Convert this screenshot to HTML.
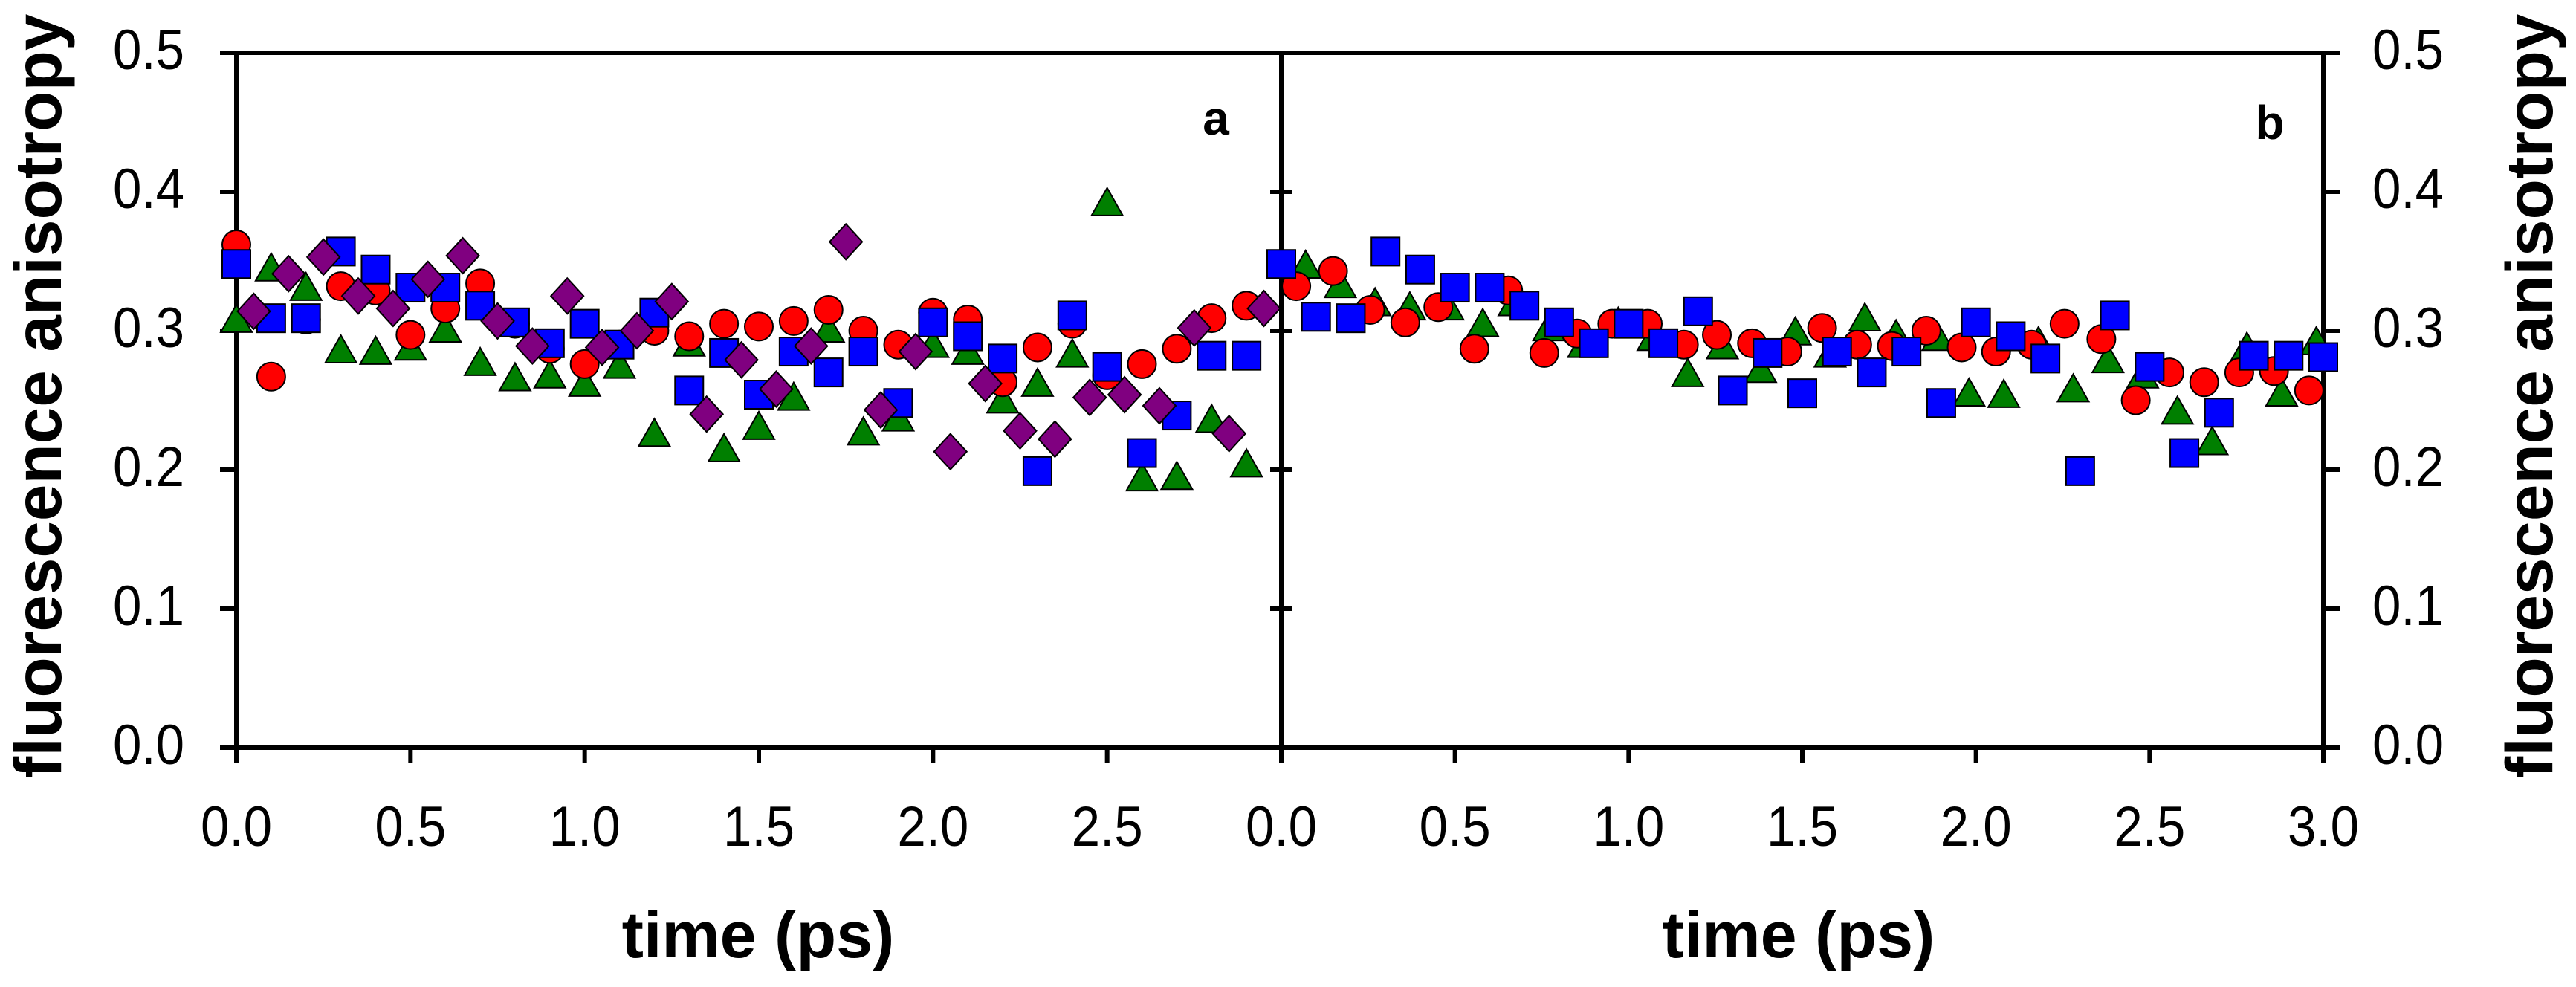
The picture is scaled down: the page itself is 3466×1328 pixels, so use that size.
<!DOCTYPE html>
<html><head><meta charset="utf-8"><style>html,body{margin:0;padding:0;background:#fff}svg{display:block}</style></head>
<body>
<svg id="chart" xmlns="http://www.w3.org/2000/svg" width="3466" height="1328" viewBox="0 0 3466 1328" font-family="'Liberation Sans', sans-serif">
<g id="frame"></g>
<g id="marks"></g>
<g id="labels"></g>
</svg>
<script>
const yTicks=[0,0.1,0.2,0.3,0.4,0.5];
const yTickLabels=["0.0","0.1","0.2","0.3","0.4","0.5"];
const xTicks=[0,0.5,1,1.5,2,2.5,3];
const xTickLabelsA=["0.0","0.5","1.0","1.5","2.0","2.5","0.0"];
const xTickLabelsB=["","0.5","1.0","1.5","2.0","2.5","3.0"];
// Panel a
const aGridX=[0,0.1,0.2,0.3,0.4,0.5,0.6,0.7,0.8,0.9,1.0,1.1,1.2,1.3,1.4,1.5,1.6,1.7,1.8,1.9,2.0,2.1,2.2,2.3,2.4,2.5,2.6,2.7,2.8,2.9];
const aRed=[0.362,0.267,0.308,0.332,0.329,0.297,0.316,0.334,0.305,0.287,0.276,0.29,0.300,0.296,0.305,0.303,0.307,0.315,0.300,0.29,0.313,0.308,0.263,0.288,0.305,0.268,0.276,0.287,0.309,0.318];
const aGreen=[0.307,0.344,0.33,0.285,0.284,0.287,0.30,0.276,0.265,0.267,0.261,0.274,0.225,0.29,0.214,0.230,0.251,0.30,0.226,0.236,0.289,0.284,0.249,0.261,0.282,0.391,0.193,0.194,0.235,0.203];
const aBlue=[0.348,0.309,0.309,0.357,0.344,0.331,0.331,0.318,0.306,0.291,0.305,0.29,0.313,0.257,0.284,0.254,0.285,0.270,0.285,0.248,0.306,0.296,0.280,0.199,0.311,0.274,0.212,0.239,0.282,0.282];
const aPurpleX=[0.05,0.15,0.25,0.35,0.45,0.55,0.65,0.75,0.85,0.95,1.05,1.15,1.25,1.35,1.45,1.55,1.65,1.75,1.85,1.95,2.05,2.15,2.25,2.35,2.45,2.55,2.65,2.75,2.85,2.95];
const aPurple=[0.314,0.341,0.353,0.325,0.316,0.337,0.354,0.307,0.289,0.325,0.288,0.300,0.321,0.240,0.279,0.258,0.289,0.364,0.243,0.285,0.213,0.262,0.228,0.222,0.252,0.254,0.246,0.302,0.226,0.316];
// Panel b
const bRedX=[0.043,0.149,0.256,0.357,0.452,0.556,0.653,0.757,0.852,0.953,1.055,1.159,1.254,1.355,1.457,1.557,1.658,1.758,1.857,1.959,2.058,2.16,2.255,2.361,2.46,2.557,2.657,2.758,2.858,2.959];
const bRed=[0.332,0.343,0.315,0.306,0.317,0.287,0.329,0.284,0.298,0.305,0.305,0.29,0.297,0.291,0.285,0.302,0.29,0.289,0.30,0.288,0.285,0.29,0.305,0.294,0.25,0.27,0.263,0.27,0.271,0.257];
const bGreenX=[0.07,0.17,0.27,0.37,0.48,0.58,0.67,0.77,0.87,0.97,1.07,1.17,1.27,1.38,1.48,1.58,1.68,1.77,1.89,1.98,2.08,2.18,2.28,2.38,2.48,2.58,2.68,2.78,2.88,2.98];
const bGreen=[0.346,0.332,0.319,0.316,0.316,0.304,0.319,0.301,0.289,0.305,0.294,0.268,0.288,0.271,0.298,0.282,0.308,0.296,0.294,0.254,0.253,0.291,0.257,0.278,0.267,0.241,0.219,0.287,0.254,0.291];
const bBlueX=[0,0.1,0.2,0.3,0.4,0.5,0.6,0.7,0.8,0.9,1.0,1.1,1.2,1.3,1.4,1.5,1.6,1.7,1.8,1.9,2.0,2.1,2.2,2.3,2.4,2.5,2.6,2.7,2.8,2.9,3.0];
const bBlue=[0.348,0.31,0.309,0.357,0.344,0.331,0.331,0.318,0.306,0.291,0.305,0.291,0.314,0.257,0.284,0.255,0.285,0.270,0.285,0.248,0.306,0.296,0.280,0.199,0.311,0.274,0.212,0.241,0.282,0.282,0.281];

const NS="http://www.w3.org/2000/svg";
const L=318,M=1724,R=3126,T=71,B=1006;
const yS=v=>B-(B-T)*v/0.5;
const xA=v=>L+(M-L)*v/3;
const xB=v=>M+(R-M)*v/3;
function mk(tag,attrs,parent){const e=document.createElementNS(NS,tag);for(const k in attrs)e.setAttribute(k,attrs[k]);parent.appendChild(e);return e;}
const frame=document.getElementById('frame'),marks=document.getElementById('marks'),labels=document.getElementById('labels');
const ls={stroke:'#000','stroke-width':6,fill:'none'};
const tl={'font-size':76,textLength:96,lengthAdjust:'spacingAndGlyphs'};
let e;
e=mk('rect',{x:L,y:T,width:R-L,height:B-T,...ls},frame);


e=mk('line',{x1:M,y1:T,x2:M,y2:B,...ls},frame);


yTicks.forEach((v,i)=>{
  const y=yS(v);
  e=mk('line',{x1:L-22,y1:y,x2:L,y2:y,...ls},frame);
  
  
  e=mk('line',{x1:R,y1:y,x2:R+22,y2:y,...ls},frame);
  
  
  if(v>0&&v<0.5){e=mk('line',{x1:M-15,y1:y,x2:M+15,y2:y,...ls},frame);
  
  }
  e=mk('text',{x:152,y:y+22,...tl},labels);e.textContent=yTickLabels[i];
  
  
  e=mk('text',{x:3192,y:y+22,...tl},labels);e.textContent=yTickLabels[i];
  
  
});
xTicks.forEach((v,i)=>{
  [[xA(v),xTickLabelsA[i]],[xB(v),xTickLabelsB[i]]].forEach(([x,lab])=>{
    e=mk('line',{x1:x,y1:B,x2:x,y2:B+20,...ls},frame);
    
    
    if(lab){e=mk('text',{x:x-48,y:1138,...tl},labels);e.textContent=lab;
    
    }
  });
});
function circle(x,y){e=mk('circle',{cx:x,cy:y,r:19,fill:'#ff0000',stroke:'#000','stroke-width':2},marks);

}
function square(x,y){e=mk('rect',{x:x-19,y:y-19,width:38,height:38,fill:'#0000ff',stroke:'#000','stroke-width':2},marks);

}
function tri(x,y){e=mk('polygon',{points:`${x},${y-22} ${x+21},${y+15} ${x-21},${y+15}`,fill:'#007f00',stroke:'#000','stroke-width':2},marks);

}
function dia(x,y){e=mk('polygon',{points:`${x},${y-24} ${x+22},${y} ${x},${y+24} ${x-22},${y}`,fill:'#800080',stroke:'#000','stroke-width':2},marks);

}
aGridX.forEach((x,i)=>tri(xA(x),yS(aGreen[i])));
aGridX.forEach((x,i)=>circle(xA(x),yS(aRed[i])));
aGridX.forEach((x,i)=>square(xA(x),yS(aBlue[i])));
aPurpleX.forEach((x,i)=>dia(xA(x),yS(aPurple[i])));
bGreenX.forEach((x,i)=>tri(xB(x),yS(bGreen[i])));
bRedX.forEach((x,i)=>circle(xB(x),yS(bRed[i])));
bBlueX.forEach((x,i)=>square(xB(x),yS(bBlue[i])));
function txt(s,a,name){e=mk('text',a,labels);e.textContent=s;

return e;}
txt('a',{x:1636,y:181,'font-size':64,'font-weight':'bold','text-anchor':'middle'},'panel-label-a');
txt('b',{x:3054,y:187,'font-size':64,'font-weight':'bold','text-anchor':'middle'},'panel-label-b');
txt('time (ps)',{x:1020,y:1288,'font-size':88,'font-weight':'bold','text-anchor':'middle'},'x-axis-title-a');
txt('time (ps)',{x:2420,y:1288,'font-size':88,'font-weight':'bold','text-anchor':'middle'},'x-axis-title-b');
txt('fluorescence anisotropy',{x:0,y:0,'font-size':89,'font-weight':'bold','text-anchor':'middle',transform:'translate(82,533) rotate(-90)'},'y-axis-title-left');
txt('fluorescence anisotropy',{x:0,y:0,'font-size':89,'font-weight':'bold','text-anchor':'middle',transform:'translate(3434,533) rotate(-90)'},'y-axis-title-right');
</script>
</body></html>
